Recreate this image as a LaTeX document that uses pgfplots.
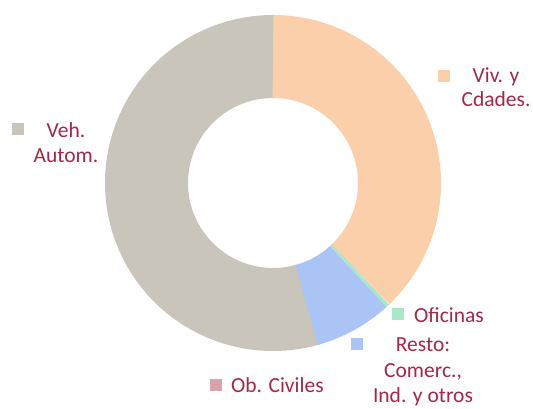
\documentclass[border=0pt]{standalone}
\usepackage{pgfplots}
\usepackage{pgfplotstable}
\pgfplotsset{compat=1.18}
\usepackage{fontspec}
\setmainfont{Carlito}
\definecolor{cViv}{RGB}{251,207,170}
\definecolor{cOfi}{RGB}{168,232,196}
\definecolor{cRes}{RGB}{169,196,245}
\definecolor{cObc}{RGB}{217,163,172}
\definecolor{cVeh}{RGB}{201,197,186}
\definecolor{cTxt}{RGB}{163,40,70}
\pgfplotstableread{
cat value
Viv 37.85
Ofi 0.4
Resto 7.45
ObCiv 0.0
Veh 54.3
}\data
\begin{document}
\begin{tikzpicture}
\pgfplotstablegetelem{0}{value}\of\data \let\vA\pgfplotsretval
\pgfplotstablegetelem{1}{value}\of\data \let\vB\pgfplotsretval
\pgfplotstablegetelem{2}{value}\of\data \let\vC\pgfplotsretval
\pgfplotstablegetelem{3}{value}\of\data \let\vD\pgfplotsretval
\pgfplotstablegetelem{4}{value}\of\data \let\vE\pgfplotsretval
% cumulative angles, clockwise from 12 o'clock
\pgfmathsetmacro{\aA}{90}
\pgfmathsetmacro{\aB}{90-3.6*\vA}
\pgfmathsetmacro{\aC}{\aB-3.6*\vB}
\pgfmathsetmacro{\aD}{\aC-3.6*\vC}
\pgfmathsetmacro{\aE}{\aD-3.6*\vD}
\pgfmathsetmacro{\aF}{\aE-3.6*\vE}
\pgfmathsetmacro{\aFx}{\aF-1}
\pgfmathsetmacro{\aEx}{\aE+1}
\useasboundingbox (0,0) rectangle (533pt,409pt);
\begin{axis}[
  at={(0,0)}, anchor=south west,
  scale only axis, width=533pt, height=409pt,
  xmin=0, xmax=533, ymin=0, ymax=409,
  hide axis, clip=false,
  every axis plot/.append style={line cap=butt, line join=round, line width=83pt, samples=120, mark=none},
]
% Veh. Autom. drawn first, slightly extended under its neighbours
\addplot[cVeh, domain=\aFx:\aEx, samples=200] ({273+126.5*cos(x)},{226+126.5*sin(x)});
\addplot[cViv, domain=\aB:\aA] ({273+126.5*cos(x)},{226+126.5*sin(x)});
\addplot[cOfi, domain=\aC:\aB, samples=10] ({273+126.5*cos(x)},{226+126.5*sin(x)});
\addplot[cRes, domain=\aD:\aC] ({273+126.5*cos(x)},{226+126.5*sin(x)});

\begin{scope}[every node/.style={text=cTxt, font=\fontsize{21.5}{25}\selectfont, anchor=base, inner sep=0pt}]
% Viv. y Cdades.
\fill[cViv] (axis cs:438,327) rectangle (axis cs:450,339);
\node at (axis cs:496,326) {Viv. y};
\node at (axis cs:496,302) {Cdades.};
% Veh. Autom.
\fill[cVeh] (axis cs:12,274) rectangle (axis cs:24,286);
\node at (axis cs:66,271) {Veh.};
\node at (axis cs:66,246) {Autom.};
% Oficinas
\fill[cOfi] (axis cs:392,89) rectangle (axis cs:404,101);
\node[anchor=base west] at (axis cs:414,86) {Oficinas};
% Resto
\fill[cRes] (axis cs:351,59) rectangle (axis cs:363,71);
\node at (axis cs:423,57) {Resto:};
\node at (axis cs:423,31) {Comerc.,};
\node at (axis cs:423,6) {Ind. y otros};
% Ob. Civiles
\fill[cObc] (axis cs:210,18) rectangle (axis cs:222,30);
\node[anchor=base west] at (axis cs:231,16) {Ob. Civiles};
\end{scope}
\end{axis}
\end{tikzpicture}
\end{document}
